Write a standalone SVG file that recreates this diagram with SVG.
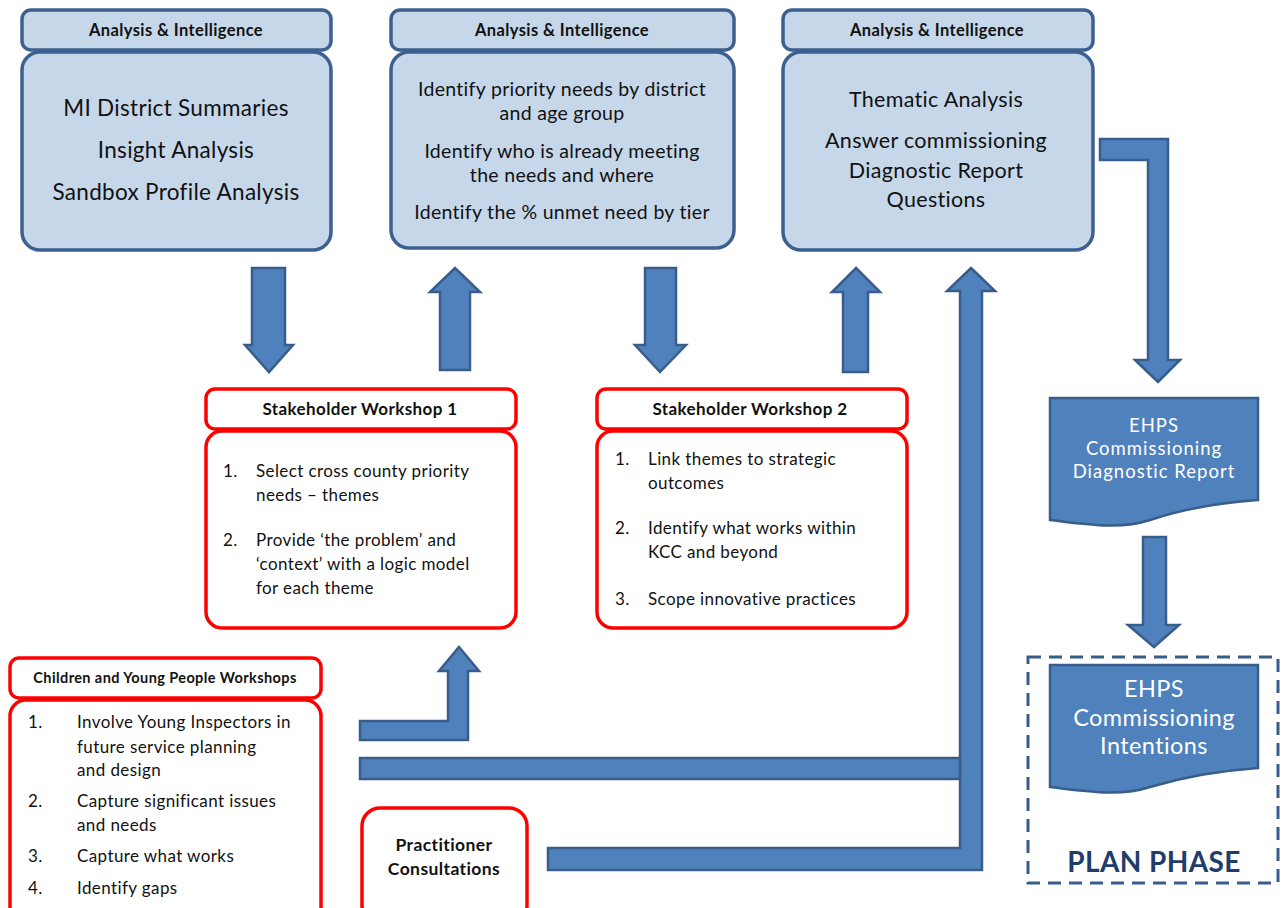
<svg xmlns="http://www.w3.org/2000/svg" width="1286" height="908" viewBox="0 0 1286 908">
<style>
.ai{fill:#c6d7ea;stroke:#3c6090;stroke-width:3.5}
.ws{fill:#ffffff;stroke:#ff0000;stroke-width:3.5}
.arr{fill:#4f81bd;stroke:#385d8a;stroke-width:2.5;stroke-linejoin:miter}
.doc{fill:#4f81bd;stroke:#385d8a;stroke-width:2.5}
.t{font-family:Lato,"Open Sans",sans-serif;fill:#111;text-anchor:middle;letter-spacing:0.3px}
.h{font-family:Lato,"Open Sans",sans-serif;font-weight:bold;fill:#111;text-anchor:middle;letter-spacing:0.4px}
.l{font-family:Lato,"Open Sans",sans-serif;fill:#111;font-size:17px;letter-spacing:0.4px}
.w{font-family:Lato,"Open Sans",sans-serif;fill:#ffffff;text-anchor:middle;letter-spacing:0.4px}
</style>
<rect width="1286" height="908" fill="#ffffff"/>

<g id="connectors">
  <polygon class="arr" points="252,268 285,268 285,345 293,345 269,372 245,345 252,345"/>
  <polygon class="arr" points="455,268 480,292 470,292 470,370 440,370 440,292 430,292"/>
  <polygon class="arr" points="645,268 676,268 676,345 686,345 660,372 635,345 645,345"/>
  <polygon class="arr" points="856,268 880,292 868,292 868,372 843,372 843,292 832,292"/>
  <polygon class="arr" points="971,268 995,291 982,291 982,870 548,870 548,848 960,848 960,291 947,291"/>
  <rect class="arr" x="360" y="758" width="600" height="21"/>
  <polygon class="arr" points="459,647 479,671 468,671 468,740 360,740 360,721 448,721 448,671 439,671"/>
  <polygon class="arr" points="1100,139 1168,139 1168,360 1180,360 1158,382 1135,360 1148,360 1148,160 1100,160"/>
  <polygon class="arr" points="1143,537 1166,537 1166,625 1179,625 1154,647 1128,625 1143,625"/>
</g>

<g id="ai1">
  <rect class="ai" x="22" y="10" width="309" height="40" rx="9"/>
  <rect class="ai" x="22" y="52" width="309" height="198" rx="18"/>
  <text class="h" x="176" y="36" font-size="16.5">Analysis &amp; Intelligence</text>
  <text class="t" x="176" y="116" font-size="22.5">MI District Summaries</text>
  <text class="t" x="176" y="158" font-size="22.5">Insight Analysis</text>
  <text class="t" x="176" y="200" font-size="22.5">Sandbox Profile Analysis</text>
</g>

<g id="ai2">
  <rect class="ai" x="391" y="10" width="343" height="40" rx="9"/>
  <rect class="ai" x="391" y="52" width="343" height="196" rx="18"/>
  <text class="h" x="562" y="36" font-size="16.5">Analysis &amp; Intelligence</text>
  <text class="t" x="562" y="96" font-size="19.5">Identify priority needs by district</text>
  <text class="t" x="562" y="120" font-size="19.5">and age group</text>
  <text class="t" x="562" y="158" font-size="19.5">Identify who is already meeting</text>
  <text class="t" x="562" y="182" font-size="19.5">the needs and where</text>
  <text class="t" x="562" y="219" font-size="19.5">Identify the % unmet need by tier</text>
</g>

<g id="ai3">
  <rect class="ai" x="783" y="10" width="310" height="40" rx="9"/>
  <rect class="ai" x="783" y="52" width="310" height="198" rx="18"/>
  <text class="h" x="937" y="36" font-size="16.5">Analysis &amp; Intelligence</text>
  <text class="t" x="936" y="107" font-size="21.5">Thematic Analysis</text>
  <text class="t" x="936" y="148" font-size="21.5">Answer commissioning</text>
  <text class="t" x="936" y="178" font-size="21.5">Diagnostic Report</text>
  <text class="t" x="936" y="207" font-size="21.5">Questions</text>
</g>

<g id="ws1">
  <rect class="ws" x="206" y="389" width="310" height="40" rx="9"/>
  <rect class="ws" x="206" y="431" width="310" height="197" rx="16"/>
  <text class="h" x="360" y="415" font-size="17">Stakeholder Workshop 1</text>
  <text class="l" x="223" y="477">1.</text>
  <text class="l" x="256" y="477">Select cross county priority</text>
  <text class="l" x="256" y="501">needs – themes</text>
  <text class="l" x="223" y="546">2.</text>
  <text class="l" x="256" y="546">Provide  ‘the problem’  and</text>
  <text class="l" x="256" y="570">‘context’ with a logic model</text>
  <text class="l" x="256" y="594">for each theme</text>
</g>

<g id="ws2">
  <rect class="ws" x="597" y="389" width="310" height="40" rx="9"/>
  <rect class="ws" x="597" y="431" width="310" height="197" rx="16"/>
  <text class="h" x="750" y="415" font-size="17">Stakeholder Workshop 2</text>
  <text class="l" x="615" y="465">1.</text>
  <text class="l" x="648" y="465">Link themes to strategic</text>
  <text class="l" x="648" y="489">outcomes</text>
  <text class="l" x="615" y="534">2.</text>
  <text class="l" x="648" y="534">Identify what works within</text>
  <text class="l" x="648" y="558">KCC and beyond</text>
  <text class="l" x="615" y="605">3.</text>
  <text class="l" x="648" y="605">Scope innovative practices</text>
</g>

<g id="cyp">
  <rect class="ws" x="10" y="658" width="311" height="40" rx="9"/>
  <rect class="ws" x="10" y="700" width="311" height="225" rx="16"/>
  <text class="h" x="165" y="683" font-size="14.5">Children and Young People Workshops</text>
  <text class="l" x="28" y="728">1.</text>
  <text class="l" x="77" y="728">Involve Young Inspectors in</text>
  <text class="l" x="77" y="753">future service  planning</text>
  <text class="l" x="77" y="776">and design</text>
  <text class="l" x="28" y="807">2.</text>
  <text class="l" x="77" y="807">Capture significant issues</text>
  <text class="l" x="77" y="831">and needs</text>
  <text class="l" x="28" y="862">3.</text>
  <text class="l" x="77" y="862">Capture what works</text>
  <text class="l" x="28" y="894">4.</text>
  <text class="l" x="77" y="894">Identify gaps</text>
</g>

<g id="practitioner">
  <rect class="ws" x="362" y="808" width="165" height="115" rx="18"/>
  <text class="h" x="444" y="851" font-size="17.5">Practitioner</text>
  <text class="h" x="444" y="875" font-size="17.5">Consultations</text>
</g>

<g id="report">
  <path class="doc" d="M1050,398 H1258 V500 C1215,503 1180,510 1150,520 C1120,530 1085,524 1050,520 Z"/>
  <text class="w" x="1154" y="432" font-size="18.5" style="letter-spacing:1px">EHPS</text>
  <text class="w" x="1154" y="455" font-size="18.5" style="letter-spacing:1px">Commissioning</text>
  <text class="w" x="1154" y="478" font-size="18.5" style="letter-spacing:1px">Diagnostic Report</text>
</g>

<g id="plan">
  <rect x="1028" y="657" width="250" height="226" fill="none" stroke="#385d8a" stroke-width="3" stroke-dasharray="13,8"/>
  <path class="doc" d="M1050,665 H1258 V768 C1215,771 1180,778 1150,787 C1120,797 1085,791 1050,787 Z"/>
  <text class="w" x="1154" y="697" font-size="23.5">EHPS</text>
  <text class="w" x="1154" y="726" font-size="23.5">Commissioning</text>
  <text class="w" x="1154" y="754" font-size="23.5">Intentions</text>
  <text class="h" x="1154" y="872" font-size="28" style="fill:#1f3d6b">PLAN PHASE</text>
</g>
</svg>
